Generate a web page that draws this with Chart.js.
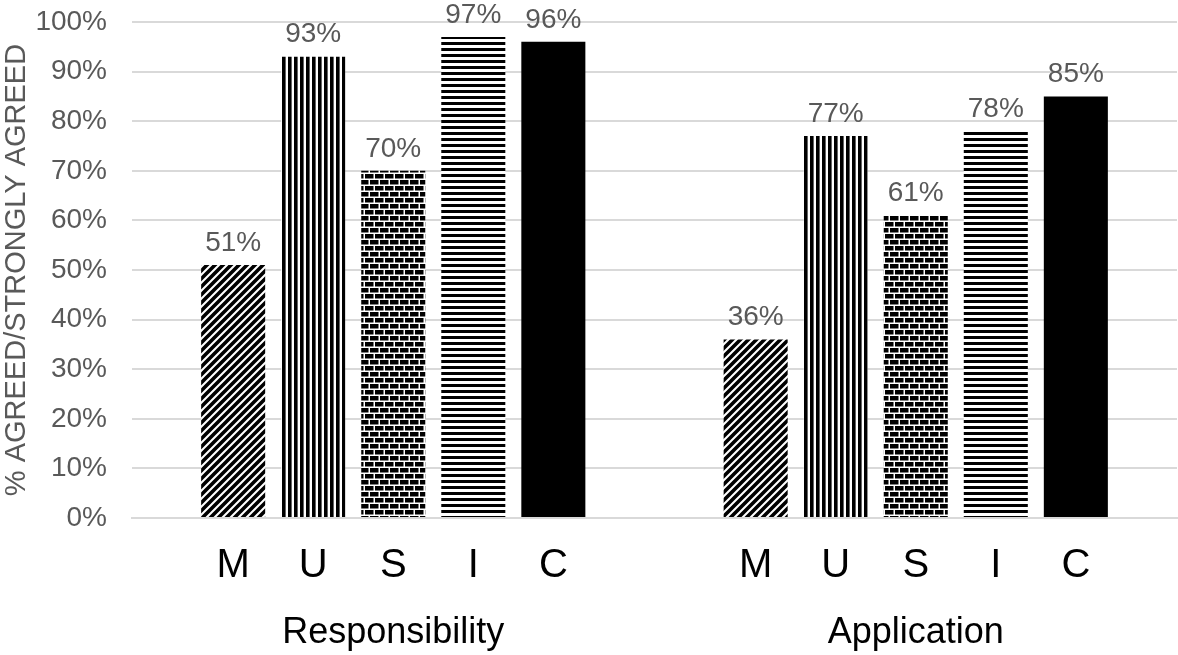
<!DOCTYPE html>
<html>
<head>
<meta charset="utf-8">
<script src="https://cdn.jsdelivr.net/npm/chart.js@4/dist/chart.umd.min.js"></script>
<style>
  html, body { margin: 0; padding: 0; background: #fff; overflow: hidden; }
  #wrap { position: relative; width: 1178px; height: 655px; }
</style>
</head>
<body>
<div id="wrap"><canvas id="chart"></canvas></div>
<script>
// Data
const groups = ['Responsibility', 'Application'];
const letters = ['M', 'U', 'S', 'I', 'C'];
const valuesM = [51, 36];
const valuesU = [93, 77];
const valuesS = [70, 61];
const valuesI = [97, 78];
const valuesC = [96, 85];
const yTicks = [0, 10, 20, 30, 40, 50, 60, 70, 80, 90, 100];

const FONT = '"Liberation Sans", Helvetica, Arial, sans-serif';
const GREY = '#595959';

// build the fill patterns
function makeTile(w, h, draw) {
    const c = document.createElement('canvas');
    c.width = w; c.height = h;
    const g = c.getContext('2d');
    g.fillStyle = '#fff';
    g.fillRect(0, 0, w, h);
    g.fillStyle = '#000';
    g.strokeStyle = '#000';
    draw(g);
    return g.createPattern(c, 'repeat');
}

const diagonal = makeTile(8, 8, function (g) {
    g.lineWidth = 3.6;
    g.beginPath();
    g.moveTo(-2, 10); g.lineTo(10, -2);
    g.moveTo(-6, 6); g.lineTo(6, -6);
    g.moveTo(2, 14); g.lineTo(14, 2);
    g.stroke();
});
const vertical = makeTile(6, 6, function (g) {
    g.fillRect(0, 0, 3.6, 6);
});
const horizontal = makeTile(6, 6, function (g) {
    g.fillRect(0, 0, 6, 3);
});
const brick = makeTile(10, 12, function (g) {
    g.fillRect(0, 0, 8.5, 4.5);
    g.fillRect(5, 6, 8.5, 4.5);
    g.fillRect(-5, 6, 8.5, 4.5);
});

const seriesValues = [valuesM, valuesU, valuesS, valuesI, valuesC];
const fills = [diagonal, vertical, brick, horizontal, '#000'];

// value labels above bars and letters under bars
const barText = {
    id: 'barText',
    afterDatasetsDraw(chart) {
        const ctx = chart.ctx;
        const bottom = chart.chartArea.bottom;
        ctx.save();
        ctx.textAlign = 'center';
        chart.data.datasets.forEach(function (ds, i) {
            const meta = chart.getDatasetMeta(i);
            meta.data.forEach(function (bar, j) {
                ctx.fillStyle = GREY;
                ctx.font = '28px ' + FONT;
                ctx.textBaseline = 'bottom';
                ctx.fillText(ds.data[j] + '%', bar.x, bar.y - 8);
                ctx.fillStyle = '#000';
                ctx.font = '40px ' + FONT;
                ctx.textBaseline = 'middle';
                ctx.fillText(ds.label, bar.x, bottom + 48);
            });
        });
        ctx.restore();
    }
};

new Chart(document.getElementById('chart').getContext('2d'), {
    type: 'bar',
    data: {
        labels: groups,
        datasets: letters.map(function (l, i) {
            return {
                label: l,
                data: seriesValues[i],
                backgroundColor: fills[i],
                borderWidth: 0,
                categoryPercentage: 0.766,
                barPercentage: 0.8
            };
        })
    },
    options: {
        responsive: true,
        maintainAspectRatio: false,
        animation: false,
        layout: { padding: { top: 0, right: 1, left: 0, bottom: 0 } },
        plugins: {
            legend: { display: false },
            tooltip: { enabled: false }
        },
        scales: {
            x: {
                afterFit(scale) { scale.height = 137; },
                grid: { display: false, drawTicks: false },
                border: { color: '#d9d9d9', width: 2 },
                ticks: {
                    color: '#000',
                    padding: 93,
                    font: { family: FONT, size: 36 }
                }
            },
            y: {
                min: 0,
                max: 100,
                afterBuildTicks(scale) {
                    scale.ticks = yTicks.map(function (v) { return { value: v }; });
                },
                afterFit(scale) {
                    scale.width = 132;
                    scale.paddingTop = 22;
                    scale.paddingBottom = 0;
                },
                grid: { color: '#d9d9d9', lineWidth: 2, drawTicks: false },
                border: { display: false },
                ticks: {
                    color: GREY,
                    padding: 25,
                    font: { family: FONT, size: 28 },
                    callback: function (v) { return v + '%'; }
                },
                title: {
                    display: true,
                    text: '% AGREED/STRONGLY AGREED',
                    color: GREY,
                    padding: 0,
                    font: { family: FONT, size: 29 }
                }
            }
        }
    },
    plugins: [barText]
});
</script>
</body>
</html>
